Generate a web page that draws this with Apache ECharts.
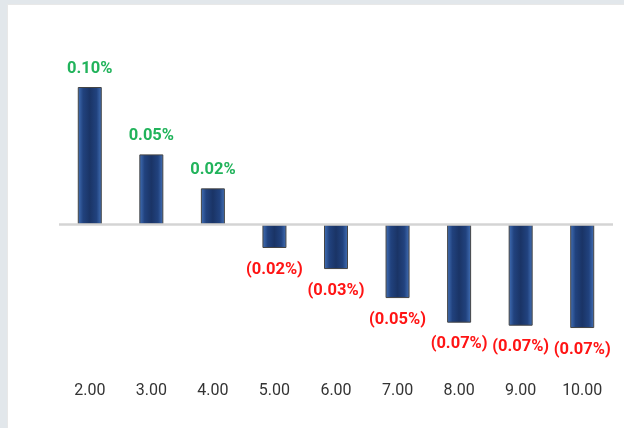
<!DOCTYPE html>
<html>
<head>
<meta charset="utf-8">
<script src="https://cdn.jsdelivr.net/npm/echarts@6/dist/echarts.min.js"></script>
<style>
  html, body { margin: 0; padding: 0; }
  body { width: 624px; height: 428px; background: #e2e7eb; position: relative; overflow: hidden; }
  .card { position: absolute; left: 7px; top: 4px; right: 0; bottom: 0; background: #fff; border: 1px solid #e8e8e8; border-right: none; border-bottom: none; }
  #chart { position: absolute; left: 0; top: 0; width: 624px; height: 428px; }
</style>
</head>
<body>
<div class="card"></div>
<div id="chart"></div>
<script>
// x categories
const categories = ["2.00", "3.00", "4.00", "5.00", "6.00", "7.00", "8.00", "9.00", "10.00"]
// bar values (%)
const values = [0.100, 0.051, 0.0263, -0.0171, -0.0324, -0.0535, -0.0714, -0.0736, -0.0753]
// labels as shown on the chart
const valueLabels = ["0.10%", "0.05%", "0.02%", "(0.02%)", "(0.03%)", "(0.05%)", "(0.07%)", "(0.07%)", "(0.07%)"]

const barFill = {
  type: "linear", x: 0, y: 0, x2: 1, y2: 0,
  colorStops: [
    { offset: 0, color: "#4371b8" },
    { offset: 0.22, color: "#21427e" },
    { offset: 0.5, color: "#1a3466" },
    { offset: 0.78, color: "#21427e" },
    { offset: 1, color: "#4371b8" }
  ]
}

const chart = echarts.init(document.getElementById("chart"), null, { renderer: "canvas" })

chart.setOption({
  animation: false,
  grid: { left: 59, right: 11, top: 59.5, bottom: 66 },
  xAxis: {
    type: "category",
    data: categories,
    axisLine: { show: false, onZero: false },
    axisTick: { show: false },
    axisLabel: { margin: 21, fontFamily: "Roboto", fontSize: 16, color: "#333" },
    splitLine: { show: false }
  },
  yAxis: {
    type: "value",
    min: -0.1,
    max: 0.12,
    show: false
  },
  series: [
    {
      type: "bar",
      barWidth: 24,
      data: values.map((v, i) => ({
        value: v,
        label: {
          show: true,
          position: v >= 0 ? "top" : "bottom",
          distance: v >= 0 ? 10 : 13,
          formatter: valueLabels[i],
          color: v >= 0 ? "#21b35b" : "#ff1414",
          fontFamily: "Roboto",
          fontWeight: "bold",
          fontSize: 16.5
        }
      })),
      itemStyle: {
        color: barFill,
        borderColor: "#454545",
        borderWidth: 1
      },
      markLine: {
        silent: true,
        symbol: "none",
        label: { show: false },
        lineStyle: { color: "#d4d4d4", width: 2.5, type: "solid" },
        data: [{ yAxis: 0 }]
      }
    }
  ]
})
</script>
</body>
</html>
